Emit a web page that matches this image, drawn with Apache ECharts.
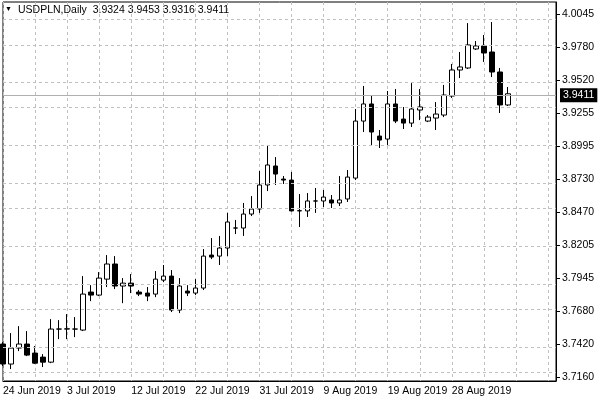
<!DOCTYPE html>
<html><head><meta charset="utf-8">
<script src="https://cdn.jsdelivr.net/npm/echarts@6/dist/echarts.min.js"></script>
<style>html,body{margin:0;padding:0;background:#fff}#c{width:600px;height:400px}</style>
</head><body><div id="c"></div>
<script>
const dates = ["24 Jun 2019","25 Jun 2019","26 Jun 2019","27 Jun 2019","28 Jun 2019","30 Jun 2019","1 Jul 2019","2 Jul 2019",
"3 Jul 2019","4 Jul 2019","5 Jul 2019","7 Jul 2019","8 Jul 2019","9 Jul 2019","10 Jul 2019","11 Jul 2019",
"12 Jul 2019","14 Jul 2019","15 Jul 2019","16 Jul 2019","17 Jul 2019","18 Jul 2019","19 Jul 2019","21 Jul 2019",
"22 Jul 2019","23 Jul 2019","24 Jul 2019","25 Jul 2019","26 Jul 2019","28 Jul 2019","29 Jul 2019","30 Jul 2019",
"31 Jul 2019","1 Aug 2019","2 Aug 2019","4 Aug 2019","5 Aug 2019","6 Aug 2019","7 Aug 2019","8 Aug 2019",
"9 Aug 2019","11 Aug 2019","12 Aug 2019","13 Aug 2019","14 Aug 2019","15 Aug 2019","16 Aug 2019","18 Aug 2019",
"19 Aug 2019","20 Aug 2019","21 Aug 2019","22 Aug 2019","23 Aug 2019","25 Aug 2019","26 Aug 2019","27 Aug 2019",
"28 Aug 2019","29 Aug 2019","30 Aug 2019","1 Sep 2019","2 Sep 2019","3 Sep 2019","4 Sep 2019","5 Sep 2019",
"","","","","",""];
// [open, close, low, high]
const ohlc = [
[3.7422,3.7263,3.7247,3.7437],[3.7263,3.7390,3.7223,3.7509],[3.7390,3.7422,3.7366,3.7564],[3.7422,3.7334,3.7326,3.7525],
[3.7350,3.7270,3.7263,3.7406],[3.7318,3.7278,3.7239,3.7342],[3.7278,3.7541,3.7270,3.7620],[3.7541,3.7541,3.7461,3.7612],
[3.7541,3.7543,3.7461,3.7660],[3.7541,3.7541,3.7477,3.7636],[3.7533,3.7819,3.7525,3.7962],[3.7835,3.7811,3.7763,3.7890],
[3.7811,3.7946,3.7803,3.7994],[3.7938,3.8058,3.7875,3.8129],[3.8058,3.7883,3.7859,3.8121],[3.7883,3.7906,3.7747,3.7946],
[3.7906,3.7883,3.7827,3.7978],[3.7835,3.7819,3.7803,3.7851],[3.7827,3.7803,3.7763,3.7875],[3.7819,3.7938,3.7795,3.8002],
[3.7930,3.7962,3.7914,3.8050],[3.7962,3.7692,3.7676,3.8010],[3.7692,3.7883,3.7668,3.7946],[3.7843,3.7827,3.7803,3.7890],
[3.7827,3.7867,3.7811,3.7938],[3.7867,3.8121,3.7851,3.8177],[3.8129,3.8113,3.8097,3.8264],[3.8121,3.8185,3.8050,3.8281],
[3.8185,3.8392,3.8121,3.8464],[3.8344,3.8344,3.8296,3.8408],[3.8344,3.8455,3.8281,3.8543],[3.8455,3.8495,3.8439,3.8598],
[3.8495,3.8686,3.8464,3.8797],[3.8686,3.8845,3.8638,3.9004],[3.8837,3.8773,3.8686,3.8908],[3.8733,3.8725,3.8694,3.8757],
[3.8725,3.8480,3.8475,3.8789],[3.8480,3.8482,3.8352,3.8614],[3.8480,3.8559,3.8432,3.8622],[3.8559,3.8559,3.8464,3.8662],
[3.8559,3.8590,3.8511,3.8646],[3.8567,3.8543,3.8503,3.8606],[3.8543,3.8567,3.8519,3.8757],[3.8575,3.8749,3.8551,3.8805],
[3.8741,3.9194,3.8725,3.9290],[3.9194,3.9330,3.9107,3.9473],[3.9330,3.9107,3.8996,3.9401],[3.9075,3.9043,3.8980,3.9123],
[3.9051,3.9330,3.9004,3.9433],[3.9330,3.9194,3.9178,3.9449],[3.9210,3.9178,3.9131,3.9306],[3.9178,3.9290,3.9147,3.9496],
[3.9282,3.9306,3.9202,3.9449],[3.9194,3.9226,3.9186,3.9242],[3.9218,3.9250,3.9123,3.9345],[3.9242,3.9401,3.9226,3.9481],
[3.9393,3.9600,3.9378,3.9648],[3.9600,3.9624,3.9536,3.9743],[3.9616,3.9799,3.9608,3.9973],[3.9767,3.9791,3.9759,3.9830],
[3.9791,3.9735,3.9664,3.9878],[3.9743,3.9584,3.9544,3.9981],[3.9584,3.9322,3.9258,3.9616],[3.9322,3.9411,3.9314,3.9465]
];
const yTicks = [3.7160,3.7420,3.7680,3.7945,3.8205,3.8470,3.8730,3.8995,3.9255,3.9520,3.9780,4.0045];
const lastPrice = 3.9411;
const titleText = "USDPLN,Daily  3.9324 3.9453 3.9316 3.9411";

const chart = echarts.init(document.getElementById('c'), null, {renderer:'canvas'});
const font = 'Liberation Sans, Arial, sans-serif';
const gridLines = yTicks.map(v => ({yAxis: v, lineStyle:{color:'#c0c0c0', type:[3,3], width:1}, label:{show:false}}));
gridLines.push({yAxis: lastPrice, lineStyle:{color:'#b0b0b0', type:'solid', width:1},
  label:{show:true, position:'end', formatter: lastPrice.toFixed(4), color:'#fff', backgroundColor:'#000',
    padding:[2,3,1,3], fontSize:10.5, fontFamily:font, distance:4}});
chart.setOption({
  animation:false,
  backgroundColor:'#fff',
  graphic:[{type:'text', left:5, top:6, style:{text:'▼', fontSize:7, fill:'#000'}},
           {type:'text', left:18, top:5, style:{text:titleText, fontSize:10.5, fontFamily:font, fill:'#000'}}],
  grid:{left:2, right:44, top:2, bottom:19, show:true, borderColor:'#000', borderWidth:1},
  xAxis:{type:'category', data:dates, boundaryGap:false,
    axisLine:{show:true, lineStyle:{color:'#000'}}, axisTick:{show:false},
    axisLabel:{interval:7, align:'left', color:'#000', fontSize:10.5, fontFamily:font, margin:5},
    splitLine:{show:true, interval:3, lineStyle:{color:'#c0c0c0', type:[3,3]}}},
  yAxis:{type:'value', position:'right', min:3.71282, max:4.01404, scale:true,
    splitLine:{show:false}, axisLine:{show:true, lineStyle:{color:'#000'}},
    axisTick:{show:true, customValues:yTicks, length:4, lineStyle:{color:'#000'}},
    axisLabel:{customValues:yTicks, formatter:v=>v.toFixed(4), color:'#000', fontSize:10.5, fontFamily:font, margin:6}},
  series:[{type:'candlestick', data:ohlc, barWidth:5,
    itemStyle:{color:'#fff', color0:'#000', borderColor:'#000', borderColor0:'#000', borderWidth:1},
    markLine:{silent:true, symbol:'none', data:gridLines, animation:false}}]
});
</script></body></html>
